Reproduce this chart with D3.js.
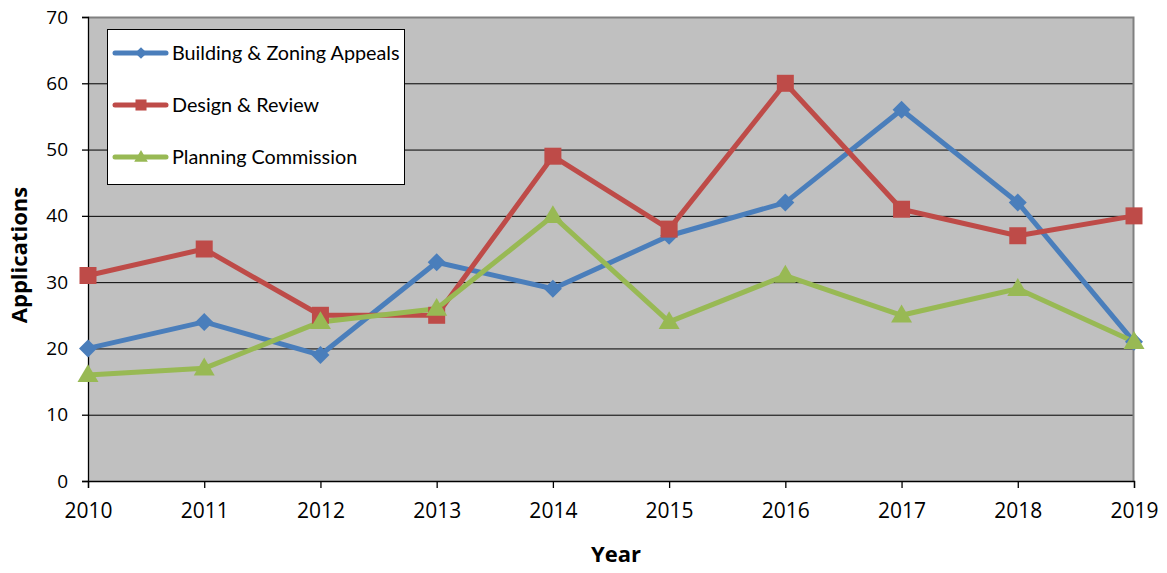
<!DOCTYPE html>
<html>
<head>
<meta charset="utf-8">
<script src="https://cdn.jsdelivr.net/npm/d3@7"></script>
<style>
  body { margin: 0; background: #fff; }
</style>
</head>
<body>
<div id="chart"></div>
<script>
// data
var years = [2010, 2011, 2012, 2013, 2014, 2015, 2016, 2017, 2018, 2019];
var buildingZoning = [20, 24, 19, 33, 29, 37, 42, 56, 42, 21];
var designReview = [31, 35, 25, 25, 49, 38, 60, 41, 37, 40];
var planningCommission = [16, 17, 24, 26, 40, 24, 31, 25, 29, 21];
var seriesNames = ["Building & Zoning Appeals", "Design & Review", "Planning Commission"];
var yTicks = [0, 10, 20, 30, 40, 50, 60, 70];

var colors = ["#4a7ebb", "#be4b48", "#98b954"];

// excel-like marker shapes, size = full width in px
var diamond = {draw: function (c, s) { var r = s / 2; c.moveTo(0, -r); c.lineTo(r, 0); c.lineTo(0, r); c.lineTo(-r, 0); c.closePath(); }};
var square = {draw: function (c, s) { var r = s / 2; c.rect(-r, -r, s, s); }};
var triangle = {draw: function (c, s) { var r = s / 2, h = s * 0.85; c.moveTo(0, -h * 0.6); c.lineTo(r, h * 0.4); c.lineTo(-r, h * 0.4); c.closePath(); }};
var shapes = [diamond, square, triangle];
var sizes = [18, 17, 21];

var W = 1167, H = 573;
var margin = {top: 17, right: 33, bottom: 92, left: 88};
var width = W - margin.left - margin.right,
    height = H - margin.top - margin.bottom;

var svg = d3.select("#chart").append("svg")
    .attr("width", W)
    .attr("height", H);

var g = svg.append("g")
    .attr("transform", "translate(" + margin.left + "," + margin.top + ")");

var x = d3.scalePoint().domain(years).range([0, width]);
var y = d3.scaleLinear().domain([0, 70]).range([height, 0]);

// plot background
g.append("rect")
    .attr("width", width)
    .attr("height", height)
    .attr("fill", "#c0c0c0");

// gridlines
g.selectAll(".grid")
    .data(yTicks.filter(function (d) { return d > 0 && d < 70; }))
    .enter().append("line")
    .attr("x1", 0).attr("x2", width)
    .attr("y1", function (d) { return y(d) + 0.5; })
    .attr("y2", function (d) { return y(d) + 0.5; })
    .attr("stroke", "#000").attr("stroke-width", 1);

// top and right border
g.append("path")
    .attr("d", "M0,0.5H" + (width - 0.5) + "V" + height)
    .attr("fill", "none")
    .attr("stroke", "#808080")
    .attr("stroke-width", 2);

// axes
var yAxis = g.append("g")
    .call(d3.axisLeft(y).tickValues(yTicks).tickSize(6).tickPadding(14));
var xAxis = g.append("g")
    .attr("transform", "translate(0," + height + ")")
    .call(d3.axisBottom(x).tickSize(7).tickPadding(15));

yAxis.attr("font-family", "'Open Sans', sans-serif").attr("font-size", 19);
xAxis.attr("font-family", "'Open Sans', sans-serif").attr("font-size", 21);
[yAxis, xAxis].forEach(function (a) {
    a.selectAll("path, line").attr("stroke", "#000").attr("stroke-width", 1.3);
    a.selectAll("text").attr("fill", "#000");
});

// axis titles
svg.append("text")
    .attr("transform", "translate(27,255) rotate(-90)")
    .attr("text-anchor", "middle")
    .attr("font-family", "'Open Sans', sans-serif")
    .attr("font-size", 22)
    .attr("font-weight", "bold")
    .text("Applications");

svg.append("text")
    .attr("x", margin.left + width / 2 + 5)
    .attr("y", 562)
    .attr("text-anchor", "middle")
    .attr("font-family", "'Open Sans', sans-serif")
    .attr("font-size", 22)
    .attr("font-weight", "bold")
    .text("Year");

// lines
var allSeries = [buildingZoning, designReview, planningCommission];
var line = d3.line()
    .x(function (d, i) { return x(years[i]); })
    .y(function (d) { return y(d); });

allSeries.forEach(function (vals, s) {
    g.append("path")
        .datum(vals)
        .attr("d", line)
        .attr("fill", "none")
        .attr("stroke", colors[s])
        .attr("stroke-width", 5)
        .attr("stroke-linejoin", "round");
});
allSeries.forEach(function (vals, s) {
    g.selectAll(".pt" + s)
        .data(vals)
        .enter().append("path")
        .attr("transform", function (d, i) { return "translate(" + x(years[i]) + "," + y(d) + ")"; })
        .attr("d", d3.symbol().type(shapes[s]).size(sizes[s]))
        .attr("fill", colors[s]);
});

// legend
var legend = svg.append("g").attr("transform", "translate(107,29)");
legend.append("rect")
    .attr("x", 0.5).attr("y", 0.5)
    .attr("width", 297).attr("height", 155)
    .attr("fill", "#fff")
    .attr("stroke", "#000")
    .attr("stroke-width", 1);

seriesNames.forEach(function (name, s) {
    var ly = 24 + s * 52;
    legend.append("line")
        .attr("x1", 8).attr("x2", 59)
        .attr("y1", ly).attr("y2", ly)
        .attr("stroke", colors[s])
        .attr("stroke-width", 5)
        .attr("stroke-linecap", "round");
    legend.append("path")
        .attr("transform", "translate(34," + ly + ")")
        .attr("d", d3.symbol().type(shapes[s]).size(sizes[s] * 0.65))
        .attr("fill", colors[s]);
    legend.append("text")
        .attr("x", 65).attr("y", ly + 7)
        .attr("font-family", "Lato, sans-serif")
        .attr("font-size", 19.8)
        .attr("fill", "#000")
        .text(name);
});
</script>
</body>
</html>
